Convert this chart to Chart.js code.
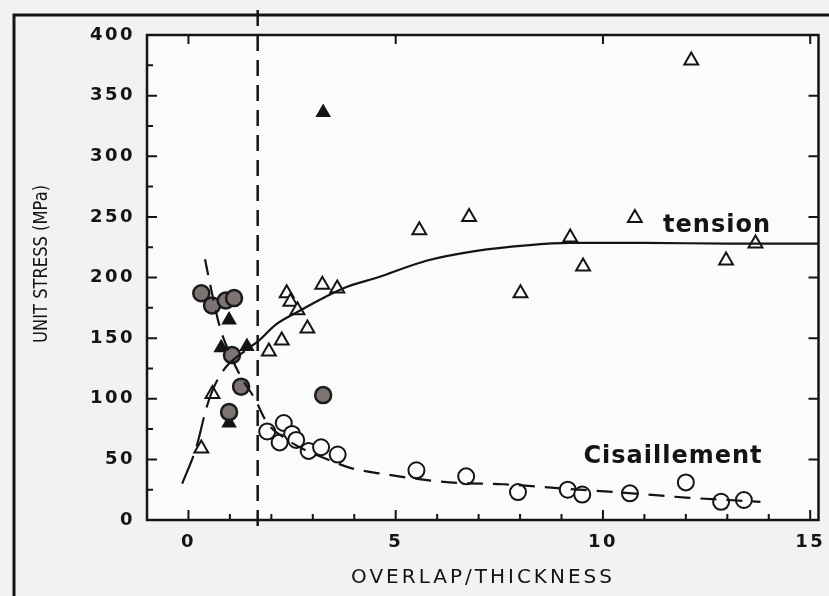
<!DOCTYPE html>
<html>
<head>
<meta charset="utf-8">
<script src="https://cdn.jsdelivr.net/npm/chart.js@4.4.0/dist/chart.umd.min.js"></script>
<style>
html,body{margin:0;padding:0;background:#f3f3f1;}
canvas{display:block;}
</style>
</head>
<body>
<canvas id="c" width="829" height="596"></canvas>
<script>
// ---- data ----
const xTickLabels = [0, 5, 10, 15];
const yTickLabels = [0, 50, 100, 150, 200, 250, 300, 350, 400];

// tension: open triangles
const tensionOpen = [
  [0.31, 59], [0.58, 104], [1.94, 139], [2.25, 148], [2.37, 187], [2.46, 180],
  [2.63, 173], [2.87, 158], [3.23, 194], [3.59, 191], [5.57, 239], [6.77, 250],
  [8.01, 187], [9.21, 233], [9.52, 209], [10.77, 249], [12.13, 379], [12.97, 214],
  [13.68, 228]
];
// tension: filled triangles
const tensionFilled = [
  [0.98, 165], [0.79, 142], [1.41, 143], [0.98, 80], [3.25, 336]
];
// shear: open circles
const shearOpen = [
  [1.9, 73], [2.3, 80], [2.5, 71], [2.2, 64], [2.6, 66], [2.9, 57], [3.2, 60],
  [3.6, 54], [5.5, 41], [6.7, 36], [7.95, 23], [9.15, 25], [9.5, 21],
  [10.65, 22], [12.0, 31], [12.85, 15], [13.4, 16.5]
];
// shear: filled (grey) circles
const shearFilled = [
  [0.31, 187], [0.57, 177], [0.9, 181], [1.1, 183], [1.05, 136], [1.27, 110],
  [0.98, 89], [3.25, 103]
];
// fitted curves
const tensionCurve = [
  [-0.15, 30], [0.19, 60], [0.43, 92], [0.62, 110], [0.9, 126], [1.38, 140],
  [1.7, 148], [2.1, 161], [2.65, 172], [3.3, 184], [3.8, 192], [4.56, 200],
  [5.76, 214], [6.95, 222], [8.15, 226.5], [9.2, 228.5], [11, 228.5], [13, 228],
  [15.2, 228]
];
const shearCurve = [
  [0.4, 215], [0.5, 198], [0.75, 160], [1.0, 137], [1.25, 119], [1.6, 100],
  [1.9, 80], [2.3, 68], [2.8, 58], [3.5, 48], [3.9, 43], [4.6, 38.5], [6.3, 31],
  [7.6, 29.5], [9, 26], [10.7, 22], [12, 18.5], [13.8, 15]
];
const dividerX = 1.67;
const xTitle = 'OVERLAP/THICKNESS';
const yTitle = 'UNIT STRESS (MPa)';
const curveLabels = [
  { text: 'tension', x: 11.45, y: 237.5 },
  { text: 'Cisaillement', x: 9.53, y: 47 }
];

const toXY = arr => arr.map(p => ({ x: p[0], y: p[1] }));
const INK = '#141414';
const PAPER = '#fbfbfa';

const decor = {
  id: 'decor',
  beforeDraw(chart) {
    const { ctx, chartArea: a } = chart;
    ctx.save();
    ctx.fillStyle = '#f2f2f0';
    ctx.fillRect(0, 0, chart.width, chart.height);
    ctx.fillStyle = PAPER;
    ctx.fillRect(a.left, a.top, a.right - a.left, a.bottom - a.top);
    // outer border of the scanned figure
    ctx.strokeStyle = INK;
    ctx.lineWidth = 3;
    ctx.beginPath();
    ctx.moveTo(14, chart.height);
    ctx.lineTo(14, 15);
    ctx.lineTo(chart.width, 15);
    ctx.stroke();
    ctx.restore();
    ctx.letterSpacing = '2.5px';
  },
  beforeDatasetsDraw(chart) {
    chart.ctx.letterSpacing = '0px';
  },
  afterDraw(chart) {
    const { ctx, chartArea: a, scales } = chart;
    const xs = scales.x, ys = scales.y;
    ctx.save();
    ctx.strokeStyle = INK;
    ctx.lineCap = 'butt';
    // frame
    ctx.lineWidth = 2.5;
    ctx.strokeRect(a.left, a.top, a.right - a.left, a.bottom - a.top);
    // inward tick marks
    ctx.lineWidth = 2;
    ctx.beginPath();
    xs.ticks.forEach(t => {
      if (!Number.isInteger(t.value)) return;
      const px = xs.getPixelForValue(t.value);
      const major = t.value % 5 === 0;
      ctx.moveTo(px, a.bottom);
      ctx.lineTo(px, a.bottom - (major ? 10 : 6));
      if (major) {
        ctx.moveTo(px, a.top);
        ctx.lineTo(px, a.top + 9);
      }
    });
    ys.ticks.forEach(t => {
      const py = ys.getPixelForValue(t.value);
      const major = t.value % 50 === 0;
      ctx.moveTo(a.left, py);
      ctx.lineTo(a.left + (major ? 10 : 6), py);
      if (major) {
        ctx.moveTo(a.right, py);
        ctx.lineTo(a.right - 10, py);
      }
    });
    ctx.stroke();
    // vertical dashed divider
    const dx = xs.getPixelForValue(dividerX);
    ctx.lineWidth = 2.5;
    ctx.setLineDash([16, 9]);
    ctx.beginPath();
    ctx.moveTo(dx, 10);
    ctx.lineTo(dx, a.bottom + 12);
    ctx.stroke();
    ctx.setLineDash([]);
    // axis titles
    ctx.fillStyle = INK;
    ctx.font = '20px "DejaVu Sans"';
    ctx.letterSpacing = '3px';
    ctx.textAlign = 'center';
    ctx.textBaseline = 'middle';
    ctx.fillText(xTitle, 483, 578);
    ctx.letterSpacing = '0px';
    ctx.save();
    ctx.font = '20px "DejaVu Sans"';
    const w = ctx.measureText(yTitle).width;
    ctx.translate(42, 264);
    ctx.rotate(-Math.PI / 2);
    ctx.scale(158 / w, 1);
    ctx.fillText(yTitle, 0, 0);
    ctx.restore();
    // curve labels
    ctx.font = 'bold 24px "DejaVu Sans"';
    ctx.letterSpacing = '1px';
    ctx.textAlign = 'left';
    ctx.textBaseline = 'alphabetic';
    curveLabels.forEach(l => {
      ctx.fillText(l.text, xs.getPixelForValue(l.x), ys.getPixelForValue(l.y));
    });
    ctx.restore();
  }
};

const tickFont = { family: 'DejaVu Sans', size: 18, weight: 'bold' };

new Chart(document.getElementById('c'), {
  type: 'scatter',
  data: {
    datasets: [
      {
        data: toXY(tensionCurve), showLine: true, borderColor: INK, borderWidth: 2.2,
        pointRadius: 0, cubicInterpolationMode: 'monotone', fill: false,
        segment: { borderDash: c => (c.p0.parsed.x < 1.3 ? [30, 10] : undefined) }
      },
      {
        data: toXY(shearCurve), showLine: true, borderColor: INK, borderWidth: 2.2,
        pointRadius: 0, cubicInterpolationMode: 'monotone', fill: false, borderDash: [16, 10]
      },
      {
        data: toXY(shearOpen), pointStyle: 'circle', pointRadius: 8,
        backgroundColor: PAPER, borderColor: INK, borderWidth: 2
      },
      {
        data: toXY(shearFilled), pointStyle: 'circle', pointRadius: 8,
        backgroundColor: '#7d7373', borderColor: '#1a1a1a', borderWidth: 2.5
      },
      {
        data: toXY(tensionOpen), pointStyle: 'triangle', pointRadius: 8,
        backgroundColor: PAPER, borderColor: INK, borderWidth: 2
      },
      {
        data: toXY(tensionFilled), pointStyle: 'triangle', pointRadius: 7,
        backgroundColor: INK, borderColor: INK, borderWidth: 2
      }
    ]
  },
  options: {
    responsive: false,
    devicePixelRatio: 1,
    animation: false,
    events: [],
    layout: { padding: { top: 35, right: 4, left: 0, bottom: 0 } },
    plugins: { legend: { display: false }, tooltip: { enabled: false } },
    scales: {
      x: {
        type: 'linear', position: 'bottom', min: -1, max: 15.2,
        grid: { display: false, drawTicks: false },
        border: { display: false },
        ticks: {
          stepSize: 1, autoSkip: false, maxRotation: 0, minRotation: 0, includeBounds: false,
          padding: 12, font: tickFont, color: INK,
          callback: v => (xTickLabels.includes(v) ? String(v) : '')
        },
        afterFit: s => { s.height = 76; s.paddingLeft = 0; s.paddingRight = 0; }
      },
      y: {
        type: 'linear', position: 'left', min: 0, max: 400,
        grid: { display: false, drawTicks: false },
        border: { display: false },
        ticks: {
          stepSize: 25, autoSkip: false, padding: 12, font: tickFont, color: INK,
          callback: v => (yTickLabels.includes(v) ? String(v) : '')
        },
        afterFit: s => { s.width = 147; s.paddingTop = 0; s.paddingBottom = 0; }
      }
    }
  },
  plugins: [decor]
});
</script>
</body>
</html>
